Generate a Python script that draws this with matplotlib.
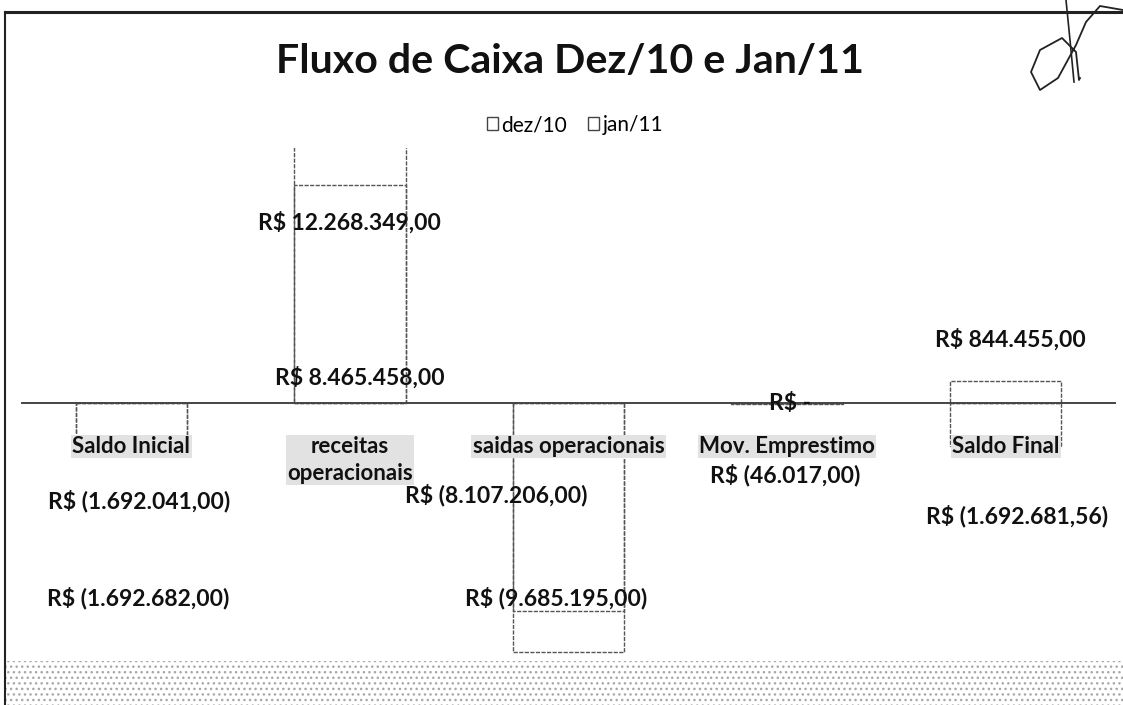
import matplotlib
matplotlib.use("Agg")
import matplotlib.pyplot as plt
from matplotlib.patches import Patch, Rectangle
from matplotlib.lines import Line2D

# ---- data ----
categories = ["Saldo Inicial", "receitas\noperacionais", "saidas operacionais",
              "Mov. Emprestimo", "Saldo Final"]
series_names = ["dez/10", "jan/11"]
dez10 = [-1692041.00, 8465458.00, -8107206.00, 0.00, -1692681.56]
jan11 = [-1692682.00, 12268349.00, -9685195.00, -46017.00, 844455.00]
title = "Fluxo de Caixa Dez/10 e Jan/11"

# ---- label placement (layout only) ----
# (x offset in category units, y in axes fraction)
dez_label_pos = [(0.035, 0.310), (0.045, 0.551), (-0.33, 0.322), (0.015, 0.500), (0.05, 0.281)]
jan_label_pos = [(0.03, 0.121), (0.0, 0.855), (-0.055, 0.121), (-0.01, 0.361), (0.02, 0.625)]


def brl(v):
    if v == 0:
        return "R$ -"
    s = f"{abs(v):,.2f}".replace(",", "X").replace(".", ",").replace("X", ".")
    return f"R$ ({s})" if v < 0 else f"R$ {s}"


plt.rcParams['font.family'] = ['Lato', 'DejaVu Sans']

W, H = 1123, 705
fig = plt.figure(figsize=(W / 100, H / 100), dpi=100)
fig.patch.set_facecolor("white")

# speckled scan band at the bottom
fig.add_artist(Rectangle((6 / W, 0), 1 - 6 / W, 44 / H, transform=fig.transFigure,
                         facecolor="white", edgecolor="#a8a8a8", hatch="...",
                         linewidth=0, zorder=0))

ax = fig.add_axes([22 / W, 1 - 660 / H, 1093 / W, 512 / H])
ax.set_facecolor("none")

x = list(range(len(categories)))
edge = "#555555"
ax.bar(x, jan11, width=0.51, facecolor="none", edgecolor=edge, linewidth=1.0,
       linestyle=(0, (3, 1)), zorder=1)
ax.bar(x, dez10, width=0.51, facecolor="none", edgecolor=edge, linewidth=1.0,
       linestyle=(0, (3, 1)), zorder=1)

ax.set_xlim(-0.5, len(categories) - 0.5)
ax.set_ylim(-10.0e6, 9.9e6)

for spine in ["top", "left", "right"]:
    ax.spines[spine].set_visible(False)
ax.spines["bottom"].set_position(("data", 0))
ax.spines["bottom"].set_color("#444444")
ax.spines["bottom"].set_linewidth(1.4)
ax.set_yticks([])
ax.set_xticks(x)
ax.set_xticklabels(categories, fontsize=16, fontweight="bold", color="#111111",
                   linespacing=1.35)
ax.tick_params(axis="x", length=0, pad=24)
for lbl in ax.get_xticklabels():
    lbl.set_bbox(dict(facecolor="#e2e2e2", edgecolor="none", pad=1.0))
    lbl.set_verticalalignment("top")

# data labels
for vals, pos in ((dez10, dez_label_pos), (jan11, jan_label_pos)):
    for i, v in enumerate(vals):
        dx, fy = pos[i]
        ax.text(i + dx, fy, brl(v), transform=ax.get_xaxis_transform(),
                ha="center", va="center", fontsize=16.5, fontweight="bold",
                color="#111111", zorder=5)

# title and legend
fig.text(570 / W, 1 - 73 / H, title, ha="center", va="baseline", fontsize=29.6,
         fontweight="bold", color="#111111")
handles = [Patch(facecolor="white", edgecolor="#444444", linewidth=1.0, label=n)
           for n in series_names]
fig.legend(handles=handles, loc="center", bbox_to_anchor=(575 / W, 1 - 125 / H),
           ncol=2, frameon=False, fontsize=15, handlelength=0.55, handleheight=0.6,
           handletextpad=0.15, columnspacing=1.0)

# chart border (top and left) as in the scan
fig.add_artist(Line2D([5 / W, 1.0], [1 - 12 / H, 1 - 12 / H], transform=fig.transFigure,
                      color="#222222", linewidth=2.2))
fig.add_artist(Line2D([5 / W, 5 / W], [0, 1 - 12 / H], transform=fig.transFigure,
                      color="#222222", linewidth=1.5))

# hand-written mark in the top right corner
sig_x = [1123, 1100, 1086, 1076, 1058, 1040, 1031, 1040, 1062, 1076, 1079, 1080]
sig_y = [10, 6, 22, 45, 78, 90, 72, 50, 38, 52, 80, 78]
fig.add_artist(Line2D([v / W for v in sig_x], [1 - v / H for v in sig_y],
                      transform=fig.transFigure, color="#222222", linewidth=1.3))
fig.add_artist(Line2D([1066 / W, 1070 / W, 1074 / W], [1.0, 1 - 40 / H, 1 - 82 / H],
                      transform=fig.transFigure, color="#222222", linewidth=1.2))

fig.savefig("out.png", dpi=100)
